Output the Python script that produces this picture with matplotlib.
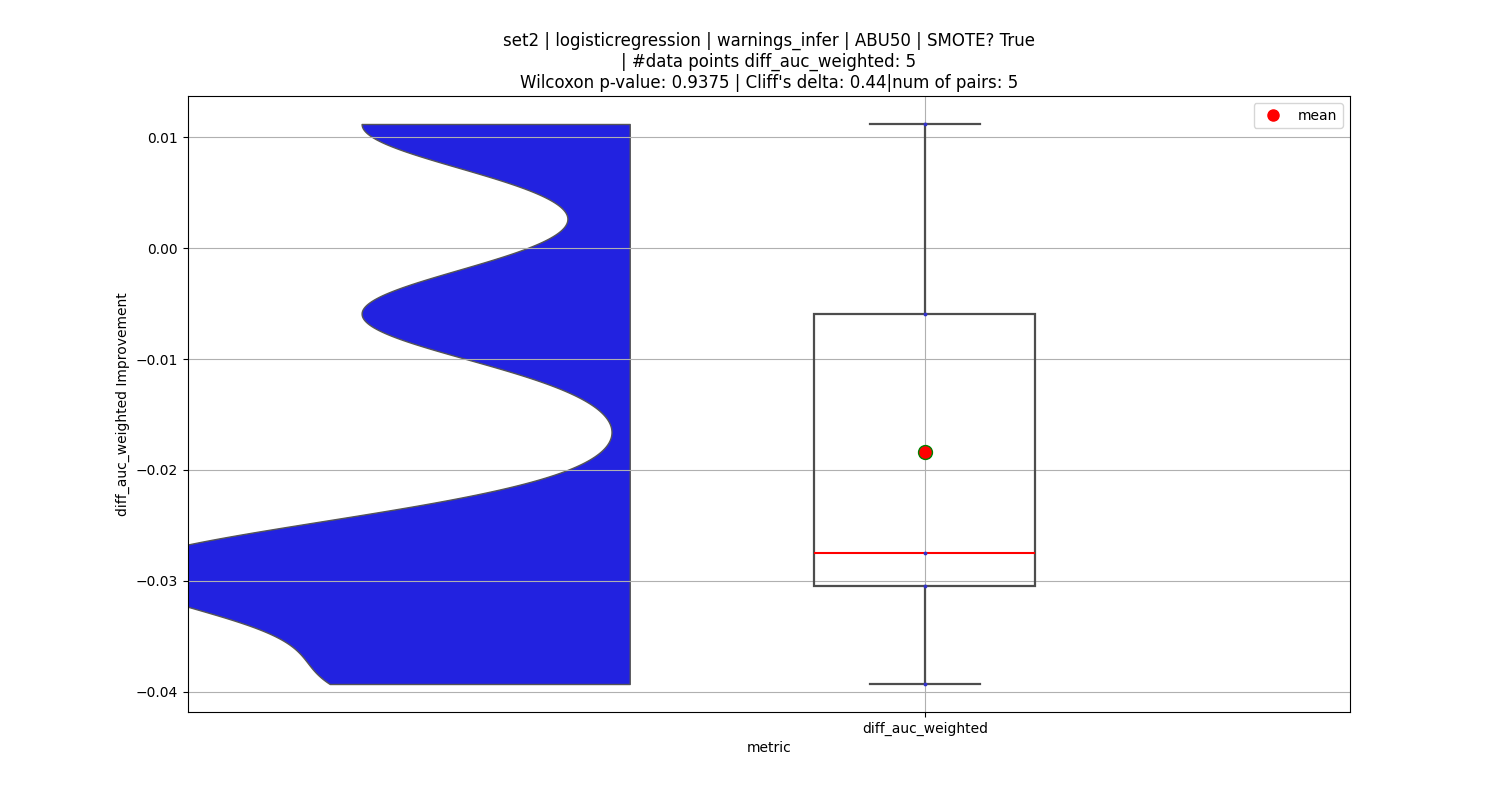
import numpy as np
import matplotlib.pyplot as plt
from matplotlib.lines import Line2D

# Datos
metric = "diff_auc_weighted"
values = np.array([-0.0393, -0.0305, -0.0275, -0.0059, 0.0112])
wilcoxon_p = 0.9375
cliffs_delta = 0.44
n_pairs = 5

titulo = ("set2 | logisticregression | warnings_infer | ABU50 | SMOTE? True\n"
          f"| #data points {metric}: {len(values)}\n"
          f"Wilcoxon p-value: {wilcoxon_p} | Cliff's delta: {cliffs_delta}|num of pairs: {n_pairs}")

# Posiciones en el eje x
pos_box = 0.0
pos_violin = -0.534
ancho_box = 0.4

fig, ax = plt.subplots(figsize=(15, 8), dpi=100)

# Media violin (solo la mitad izquierda), kde con bw 0.2 * std
h = 0.2 * np.std(values, ddof=1)
y = np.linspace(values.min(), values.max(), 400)
dens = np.exp(-0.5 * ((y[:, None] - values[None, :]) / h) ** 2).sum(axis=1)
half = dens * 0.485
ax.fill_betweenx(y, pos_violin - half, pos_violin, facecolor="#2222e0",
                 edgecolor="#555555", linewidth=1.0, zorder=1)

ax.grid(True, color="#b0b0b0", linewidth=0.8)

# Boxplot
ax.boxplot(values, positions=[pos_box], widths=ancho_box, patch_artist=True,
           showfliers=False,
           boxprops=dict(facecolor="none", edgecolor="#4d4d4d", linewidth=1.6),
           whiskerprops=dict(color="#4d4d4d", linewidth=1.6),
           capprops=dict(color="#4d4d4d", linewidth=1.6),
           medianprops=dict(color="red", linewidth=1.5))

# Puntos individuales
ax.scatter(np.full(len(values), pos_box), values, s=3, color="#3333cc", zorder=3)

# Media
ax.plot([pos_box], [values.mean()], marker="o", color="red",
        markeredgecolor="green", markersize=10, linestyle="none", zorder=4)

ax.set_xlim(-1.334, 0.769)
ax.set_xticks([pos_box])
ax.set_xticklabels([metric])
ax.set_xlabel("metric")
ax.set_ylabel(f"{metric} Improvement")
ax.set_title(titulo, fontsize=12)

handle = Line2D([], [], marker="o", color="red", linestyle="none", markersize=8)
ax.legend([handle], ["mean"], loc="upper right")

plt.savefig("out.png")
